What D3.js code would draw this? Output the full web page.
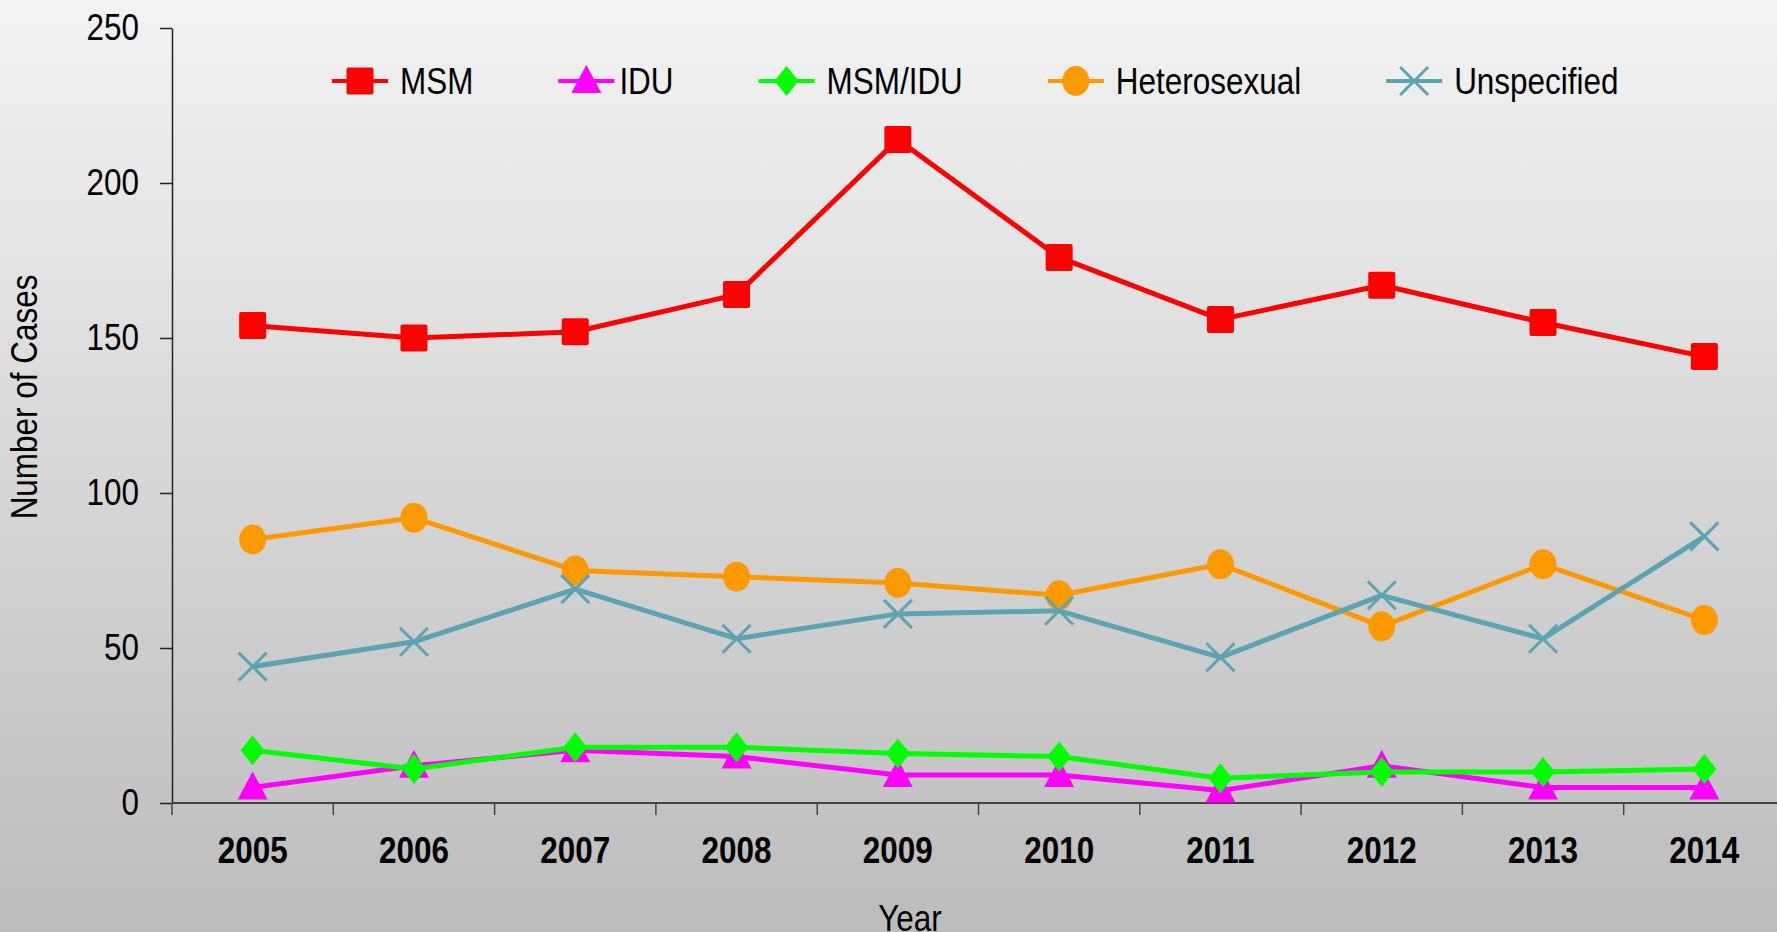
<!DOCTYPE html>
<meta charset="utf-8">
<style>
  html, body { margin: 0; padding: 0; overflow: hidden; }
  text { font-family: "Liberation Sans", Arial, sans-serif; fill: #000; }
</style>
<script src="https://d3js.org/d3.v7.min.js"></script>
<div id="chart"></div>
<script>
// data
var years = ["2005","2006","2007","2008","2009","2010","2011","2012","2013","2014"];
var msm          = [154, 150, 152, 164, 214, 176, 156, 167, 155, 144];
var idu          = [5, 12, 17, 15, 9, 9, 4, 12, 5, 5];
var msmIdu       = [17, 11, 18, 18, 16, 15, 8, 10, 10, 11];
var heterosexual = [85, 92, 75, 73, 71, 67, 77, 57, 77, 59];
var unspecified  = [44, 52, 69, 53, 61, 62, 47, 67, 53, 86];
var yTicks = [0, 50, 100, 150, 200, 250];

var series = [
  {name: "MSM",          values: msm,          color: "#ff0000", shape: "square"},
  {name: "IDU",          values: idu,          color: "#ff00ff", shape: "triangle"},
  {name: "MSM/IDU",      values: msmIdu,       color: "#00ff00", shape: "diamond"},
  {name: "Heterosexual", values: heterosexual, color: "#ff9900", shape: "circle"},
  {name: "Unspecified",  values: unspecified,  color: "#5ca4b0", shape: "cross"}
];

var W = 1777, H = 932;
var mLeft = 172, mTop = 28, mBottom = 803;
var squeeze = 0.85; // the original uses a narrow font

var svg = d3.select("#chart").append("svg")
    .attr("width", W)
    .attr("height", H);

// narrow the text horizontally, returns the new width
function narrow(sel) {
  var w = 0;
  sel.each(function() {
    var n = this.getComputedTextLength() * squeeze;
    d3.select(this).attr("textLength", n).attr("lengthAdjust", "spacingAndGlyphs");
    w = n;
  });
  return w;
}

// background gradient
var grad = svg.append("defs").append("linearGradient")
    .attr("id", "bg")
    .attr("x1", 0).attr("y1", 0).attr("x2", 0).attr("y2", 1);
grad.append("stop").attr("offset", "0%").attr("stop-color", "#f3f3f3");
grad.append("stop").attr("offset", "100%").attr("stop-color", "#bcbcbc");
svg.append("rect").attr("width", W).attr("height", H).attr("fill", "url(#bg)");

var x = d3.scaleBand().domain(years).range([mLeft, mLeft + 161.3 * years.length]);
var y = d3.scaleLinear().domain([0, 250]).range([mBottom, mTop]);
var cx = function(i) { return x(years[i]) + x.bandwidth() / 2; };

// y axis
var yAxis = svg.append("g")
    .attr("transform", "translate(" + mLeft + ",0)")
    .call(d3.axisLeft(y).tickValues(yTicks).tickSize(12).tickSizeOuter(0).tickPadding(21));
yAxis.select(".domain").attr("stroke", "#222").attr("stroke-width", 1.5);
yAxis.selectAll(".tick line").attr("stroke", "#222").attr("stroke-width", 1.5);
yAxis.selectAll(".tick text")
    .style("font-family", "'Liberation Sans', Arial, sans-serif")
    .style("font-size", "37px")
    .attr("fill", "#000");
yAxis.selectAll(".tick text").each(function() { narrow(d3.select(this)); });

// x axis: line, ticks at category edges, labels at centres
svg.append("line")
    .attr("x1", mLeft).attr("x2", W)
    .attr("y1", mBottom).attr("y2", mBottom)
    .attr("stroke", "#444").attr("stroke-width", 2);
svg.selectAll(".xtick")
  .data(years)
  .enter().append("line")
    .attr("class", "xtick")
    .attr("x1", function(d) { return x(d); })
    .attr("x2", function(d) { return x(d); })
    .attr("y1", mBottom).attr("y2", mBottom + 12)
    .attr("stroke", "#444").attr("stroke-width", 1.5);
svg.selectAll(".xlab")
  .data(years)
  .enter().append("text")
    .attr("class", "xlab")
    .attr("x", function(d) { return x(d) + x.bandwidth() / 2; })
    .attr("y", 863)
    .attr("text-anchor", "middle")
    .style("font-size", "37px")
    .style("font-weight", "bold")
    .text(function(d) { return d; })
    .each(function() { narrow(d3.select(this)); });

// axis titles
narrow(svg.append("text")
    .attr("transform", "translate(37,397) rotate(-90)")
    .attr("text-anchor", "middle")
    .style("font-size", "37px")
    .text("Number of Cases"));
narrow(svg.append("text")
    .attr("x", 910).attr("y", 931)
    .attr("text-anchor", "middle")
    .style("font-size", "37px")
    .text("Year"));

// marker drawing
function marker(g, shape, color, px, py) {
  if (shape == "square") {
    g.append("rect").attr("x", px - 13.5).attr("y", py - 13.5)
      .attr("width", 27).attr("height", 27).attr("rx", 2).attr("fill", color);
  } else if (shape == "triangle") {
    g.append("path").attr("d", "M" + px + "," + (py - 16) + "L" + (px + 15) + "," + (py + 12) + "L" + (px - 15) + "," + (py + 12) + "Z")
      .attr("fill", color);
  } else if (shape == "diamond") {
    g.append("path").attr("d", "M" + px + "," + (py - 15) + "L" + (px + 12) + "," + py + "L" + px + "," + (py + 15) + "L" + (px - 12) + "," + py + "Z")
      .attr("fill", color);
  } else if (shape == "circle") {
    g.append("ellipse").attr("cx", px).attr("cy", py).attr("rx", 13.5).attr("ry", 15).attr("fill", color);
  } else {
    g.append("path").attr("d", "M" + (px - 14) + "," + (py - 14) + "L" + (px + 14) + "," + (py + 14) + "M" + (px + 14) + "," + (py - 14) + "L" + (px - 14) + "," + (py + 14))
      .attr("stroke", color).attr("stroke-width", 3).attr("fill", "none");
  }
}

var line = d3.line()
    .x(function(d, i) { return cx(i); })
    .y(function(d) { return y(d); });

series.forEach(function(s) {
  var g = svg.append("g");
  g.append("path")
    .attr("d", line(s.values))
    .attr("fill", "none")
    .attr("stroke", s.color)
    .attr("stroke-width", 5)
    .attr("stroke-linejoin", "round");
  s.values.forEach(function(v, i) { marker(g, s.shape, s.color, cx(i), y(v)); });
});

// legend (the IDU label sits a little closer to its marker in the original)
var lx = 360, ly = 81;
series.forEach(function(s) {
  var g = svg.append("g");
  var off = s.shape == "triangle" ? 33 : 40;
  g.append("line")
    .attr("x1", lx - 28).attr("x2", lx + 28)
    .attr("y1", ly).attr("y2", ly)
    .attr("stroke", s.color).attr("stroke-width", 4);
  marker(g, s.shape, s.color, lx, ly);
  var w = narrow(g.append("text")
    .attr("x", lx + off).attr("y", ly + 13)
    .style("font-size", "37px")
    .text(s.name));
  lx = lx + off + w + 113;
});
</script>
